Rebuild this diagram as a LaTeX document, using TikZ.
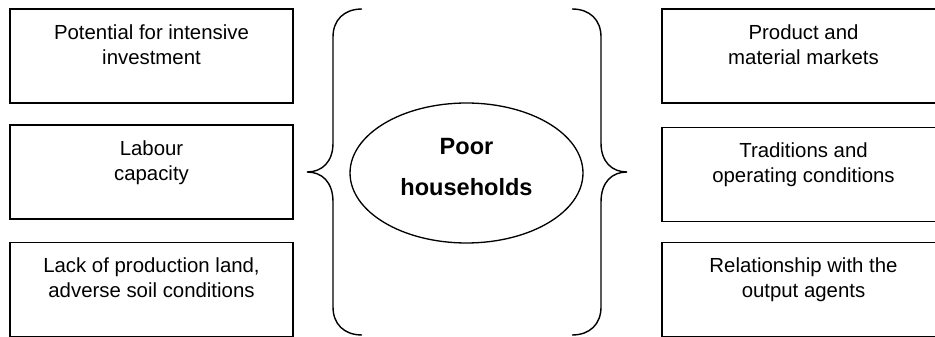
\documentclass[tikz,border=0pt]{standalone}
\usepackage{fontspec}
\setmainfont{Liberation Sans}
\usetikzlibrary{shapes.geometric}
\begin{document}
\begin{tikzpicture}[x=0.02cm,y=-0.02cm,
    factor/.style={draw,line width=1.1pt,minimum width=5.66cm,minimum height=1.88cm,inner sep=0pt},
    factortext/.style={anchor=north,align=center,inner sep=0pt,font=\fontsize{11.6}{14.3}\selectfont},
    hh/.style={draw,ellipse,line width=0.75pt,minimum width=4.66cm,minimum height=2.8cm,inner sep=0pt},
    brace/.style={line width=0.8pt}]
    \clip (0,0) rectangle (935,337);
    % left column
    \node [factor] (invest) at (151.5,56) {};
    \node [factortext] (investtext) at ([yshift=-0.322cm]invest.north) {Potential for intensive\\investment};
    \node [factor] (labour) at (151.5,172) {};
    \node [factortext] (labourtext) at ([yshift=-0.322cm]labour.north) {Labour\\capacity};
    \node [factor] (land) at (151.5,289.5) {};
    \node [factortext] (landtext) at ([yshift=-0.322cm]land.north) {Lack of production land,\\adverse soil conditions};
    % right column
    \node [factor] (market) at (803.5,56) {};
    \node [factortext] (markettext) at ([yshift=-0.322cm]market.north) {Product and\\material markets};
    \node [factor] (tradition) at (803.5,174.5) {};
    \node [factortext] (traditiontext) at ([yshift=-0.322cm]tradition.north) {Traditions and\\operating conditions};
    \node [factor] (agent) at (803.5,289.5) {};
    \node [factortext] (agenttext) at ([yshift=-0.322cm]agent.north) {Relationship with the\\output agents};
    % centre
    \node [hh] (poor) at (466.5,173) {};
    \node [align=center,inner sep=0pt,font=\fontsize{13.4}{23.2}\selectfont\bfseries] (poortext) at (466.5,167) {Poor\\households};
    % braces
    \draw [brace] (362,9) .. controls (344,9) and (333,20) .. (333,37) -- (333,143)
        .. controls (333,162) and (322,172) .. (307,172)
        .. controls (322,172) and (333,182) .. (333,202) -- (333,307)
        .. controls (333,324) and (344,335) .. (362,335);
    \draw [brace] (572,9) .. controls (590,9) and (601,20) .. (601,37) -- (601,143)
        .. controls (601,162) and (612,172) .. (627,172)
        .. controls (612,172) and (601,182) .. (601,202) -- (601,307)
        .. controls (601,324) and (590,335) .. (572,335);
\end{tikzpicture}
\end{document}
